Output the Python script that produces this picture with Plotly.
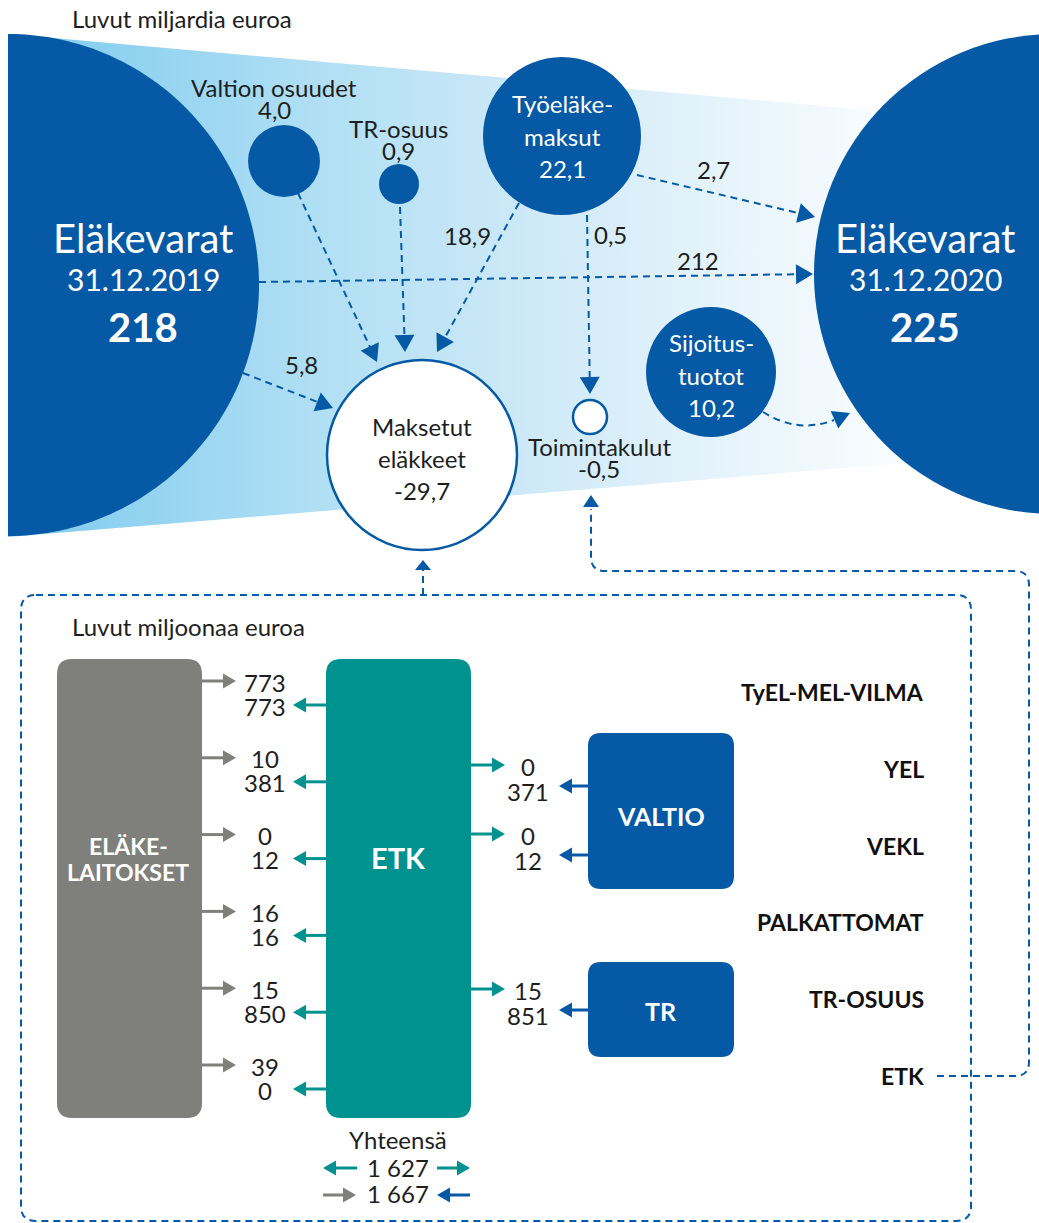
import numpy as np
import plotly.graph_objects as go

W, H = 1039, 1223
DARK = '#0659a4'
TEAL = '#00928f'
GRAY = '#7f807c'
TXT = '#1e1e1e'
FONT = 'Lato'

# ---------------- data: billions of euros ----------------
fund_title = 'Eläkevarat'
fund_dates = ['31.12.2019', '31.12.2020']
fund_values = [218, 225]

flow_names = ['Valtion osuudet', 'TR-osuus', 'Työeläkemaksut', 'Sijoitustuotot',
              'Maksetut eläkkeet', 'Toimintakulut']
flow_values = [4.0, 0.9, 22.1, 10.2, -29.7, -0.5]

# links between the circles (label values)
link_names = ['Työeläkemaksut → Maksetut', 'Työeläkemaksut → 2020',
              'Työeläkemaksut → Toimintakulut', '2019 → 2020', '2019 → Maksetut']
link_values = [18.9, 2.7, 0.5, 212, 5.8]

# ---------------- data: millions of euros ----------------
schemes = ['TyEL-MEL-VILMA', 'YEL', 'VEKL', 'PALKATTOMAT', 'TR-OSUUS', 'ETK']
institutions_to_etk = [773, 10, 0, 16, 15, 39]
etk_to_institutions = [773, 381, 12, 16, 850, 0]
payer_names = ['VALTIO', 'TR']
payer_schemes = ['YEL', 'VEKL', 'TR-OSUUS']
etk_to_payers = [0, 0, 15]
payers_to_etk = [371, 12, 851]
total_etk_out = 1627
total_etk_in = 1667


def fi(v, d=1):
    return f"{v:.{d}f}".replace('.', ',')


def th(v):
    return f"{v:,}".replace(',', ' ')


fig = go.Figure()
shapes = []
anns = []

# ---------- gradient band ----------
band_x = [8, 1039, 1039, 8, 8]
band_y = [34, 125, 452, 537, 34]
fig.add_trace(go.Scatter(
    x=band_x, y=band_y, mode='lines', fill='toself', line=dict(width=0),
    fillgradient=dict(type='horizontal',
                      colorscale=[[0, '#7dcaee'], [0.3, '#b0dff4'], [0.5, '#cde9f7'],
                                  [0.68, '#e4f3fb'], [0.85, '#f8fcfe'], [1, '#ffffff']]),
    hoverinfo='skip', showlegend=False))


def circle(cx, cy, r, fill, line=None, lw=0):
    shapes.append(dict(type='circle', xref='x', yref='y', x0=cx - r, x1=cx + r,
                       y0=cy - r, y1=cy + r, fillcolor=fill,
                       line=dict(color=line or fill, width=lw), layer='above'))


def path(d, fill=None, color=DARK, width=0, dash=None):
    s = dict(type='path', xref='x', yref='y', path=d, layer='above',
             line=dict(color=color, width=width))
    if dash:
        s['line']['dash'] = dash
    if fill:
        s['fillcolor'] = fill
    shapes.append(s)


def rrect(x0, y0, x1, y1, r, fill):
    d = (f"M {x0+r},{y0} L {x1-r},{y0} Q {x1},{y0} {x1},{y0+r} L {x1},{y1-r} "
         f"Q {x1},{y1} {x1-r},{y1} L {x0+r},{y1} Q {x0},{y1} {x0},{y1-r} "
         f"L {x0},{y0+r} Q {x0},{y0} {x0+r},{y0} Z")
    path(d, fill=fill, color=fill, width=0)


def head(tip, ux, uy, L, Wd, color):
    bx, by = tip[0] - L * ux, tip[1] - L * uy
    px, py = -uy, ux
    p1 = (bx + px * Wd / 2, by + py * Wd / 2)
    p2 = (bx - px * Wd / 2, by - py * Wd / 2)
    path(f"M {tip[0]},{tip[1]} L {p1[0]},{p1[1]} L {p2[0]},{p2[1]} Z", fill=color, color=color, width=0)


def arrow(start, tip, color=DARK, width=2, dash='7px,5px', L=17, Wd=20):
    dx, dy = tip[0] - start[0], tip[1] - start[1]
    n = (dx * dx + dy * dy) ** 0.5
    ux, uy = dx / n, dy / n
    ex, ey = tip[0] - (L - 1) * ux, tip[1] - (L - 1) * uy
    ln = dict(color=color, width=width)
    if dash:
        ln['dash'] = dash
    shapes.append(dict(type='line', xref='x', yref='y', x0=start[0], y0=start[1],
                       x1=ex, y1=ey, line=ln, layer='above'))
    head(tip, ux, uy, L, Wd, color)


def text(x, y, t, size=24, color=TXT, bold=False, xanchor='center'):
    if bold:
        t = f"<b>{t}</b>"
    anns.append(dict(x=x, y=y, xref='x', yref='y', text=t, showarrow=False,
                     xanchor=xanchor, yanchor='middle',
                     font=dict(family=FONT, size=size, color=color)))


# ---------- big fund circles ----------
a = np.linspace(-np.pi / 2, np.pi / 2, 120)
cx, cy, r = 8, 285, 251
pts = " L ".join(f"{cx + r*np.cos(t):.1f},{cy + r*np.sin(t):.1f}" for t in a)
path(f"M {pts} Z", fill=DARK, color=DARK, width=0)
circle(1054, 274, 240, DARK)

# ---------- flow circles ----------
circle(284, 161, 36, DARK)           # Valtion osuudet
circle(399, 184, 20, DARK)           # TR-osuus
circle(562, 136, 79, DARK)           # Työeläkemaksut
circle(711, 372, 65, DARK)           # Sijoitustuotot
circle(422, 455, 95, 'white', DARK, 2.5)   # Maksetut eläkkeet
circle(590, 417, 17, 'white', DARK, 2.5)   # Toimintakulut

# ---------- dashed arrows (top) ----------
arrow((298, 193), (377, 362))
arrow((400, 207), (405, 352))
arrow((519, 203), (437, 352))
arrow((243, 373), (333, 408))
arrow((259, 282), (813, 274))
arrow((637, 175), (815, 217))
arrow((587, 215), (590, 394))
path("M 763,412 Q 798,434 834,420", color=DARK, width=2, dash='7px,5px')
head((850, 413), 16 / 17.5, -7 / 17.5, 17, 19, DARK)

# ---------- texts (top) ----------
text(70, 18, 'Luvut miljardia euroa', xanchor='left')
for x, dt, v in zip([143, 925], fund_dates, fund_values):
    text(x, 238, fund_title, 40, 'white')
    text(x, 279, dt, 30, 'white')
    text(x, 327, str(v), 40, 'white', bold=True)

text(274, 87, 'Valtion osuudet')
text(274, 109, fi(flow_values[0]))
text(398, 128, 'TR-osuus')
text(398, 150, fi(flow_values[1]))
text(562, 103, 'Työeläke-', color='white')
text(562, 136, 'maksut', color='white')
text(562, 168, fi(flow_values[2]), color='white')
text(711, 342, 'Sijoitus-', color='white')
text(711, 375, 'tuotot', color='white')
text(711, 407, fi(flow_values[3]), color='white')
text(422, 426, 'Maksetut')
text(422, 458, 'eläkkeet')
text(422, 490, fi(flow_values[4]))
text(599, 446, 'Toimintakulut')
text(599, 468, fi(flow_values[5]))

for (x, y), v in zip([(467, 235), (713, 169), (610, 234), (698, 260), (301, 364)], link_values):
    text(x, y, fi(v) if isinstance(v, float) else str(v))

# ---------- dashed frame (bottom) ----------
x0, y0, x1, y1, rr = 21, 595, 971, 1221, 15
path(f"M {x0+rr},{y0} L {x1-rr},{y0} Q {x1},{y0} {x1},{y0+rr} L {x1},{y1-rr} "
     f"Q {x1},{y1} {x1-rr},{y1} L {x0+rr},{y1} Q {x0},{y1} {x0},{y1-rr} "
     f"L {x0},{y0+rr} Q {x0},{y0} {x0+rr},{y0} Z", color=DARK, width=2, dash='7px,5px')
arrow((423, 595), (423, 560), L=10, Wd=16)

# ETK connector
path("M 937,1076 L 1015,1076 Q 1029,1076 1029,1062 L 1029,585 Q 1029,571 1015,571 "
     "L 605,571 Q 591,571 591,557 L 591,509", color=DARK, width=2, dash='7px,5px')
head((591, 495), 0, -1, 12, 16, DARK)

text(70, 626, 'Luvut miljoonaa euroa', xanchor='left')

# ---------- boxes ----------
rrect(57, 659, 202, 1118, 15, GRAY)
rrect(326, 659, 471, 1118, 15, TEAL)
rrect(588, 733, 734, 889, 13, DARK)
rrect(588, 962, 734, 1057, 13, DARK)
text(128, 846, 'ELÄKE-', 23, 'white', bold=True)
text(128, 872, 'LAITOKSET', 23, 'white', bold=True)
text(398, 857, 'ETK', 29, 'white', bold=True)
text(661, 816, payer_names[0], 25, 'white', bold=True)
text(661, 1011, payer_names[1], 25, 'white', bold=True)


def solid_arrow(x_from, x_tip, y, color):
    d = 1 if x_tip > x_from else -1
    L = 13
    shapes.append(dict(type='line', xref='x', yref='y', x0=x_from, y0=y,
                       x1=x_tip - d * (L - 1), y1=y, line=dict(color=color, width=3),
                       layer='above'))
    head((x_tip, y), d, 0, L, 15, color)


row0, step = 694, 76.8
for i, (s, vin, vout) in enumerate(zip(schemes, institutions_to_etk, etk_to_institutions)):
    yc = row0 + i * step
    solid_arrow(202, 236, yc - 13, GRAY)
    solid_arrow(326, 293, yc + 11, TEAL)
    text(265, yc - 12, str(vin))
    text(265, yc + 12, str(vout))
    text(926, yc - 2, s, 23, '#111111', bold=True, xanchor='right')

for yc, vo, vi in zip([777, 846, 1001], etk_to_payers, payers_to_etk):
    solid_arrow(471, 505, yc - 12, TEAL)
    solid_arrow(588, 559, yc + 9, DARK)
    text(528, yc - 11, str(vo))
    text(528, yc + 14, str(vi))

text(398, 1139, 'Yhteensä')
text(398, 1167, th(total_etk_out))
text(398, 1193, th(total_etk_in))
solid_arrow(357, 323, 1168, TEAL)
solid_arrow(437, 470, 1168, TEAL)
solid_arrow(323, 356, 1195, GRAY)
solid_arrow(470, 437, 1195, DARK)

fig.update_layout(
    width=W, height=H, margin=dict(l=0, r=0, t=0, b=0),
    paper_bgcolor='white', plot_bgcolor='white',
    xaxis=dict(range=[0, W], visible=False, fixedrange=True),
    yaxis=dict(range=[H, 0], visible=False, fixedrange=True),
    shapes=shapes, annotations=anns, showlegend=False,
)
fig.write_html("out.html", config={'displayModeBar': False},
               post_script="document.body.style.margin='0';document.body.style.overflow='hidden';")
